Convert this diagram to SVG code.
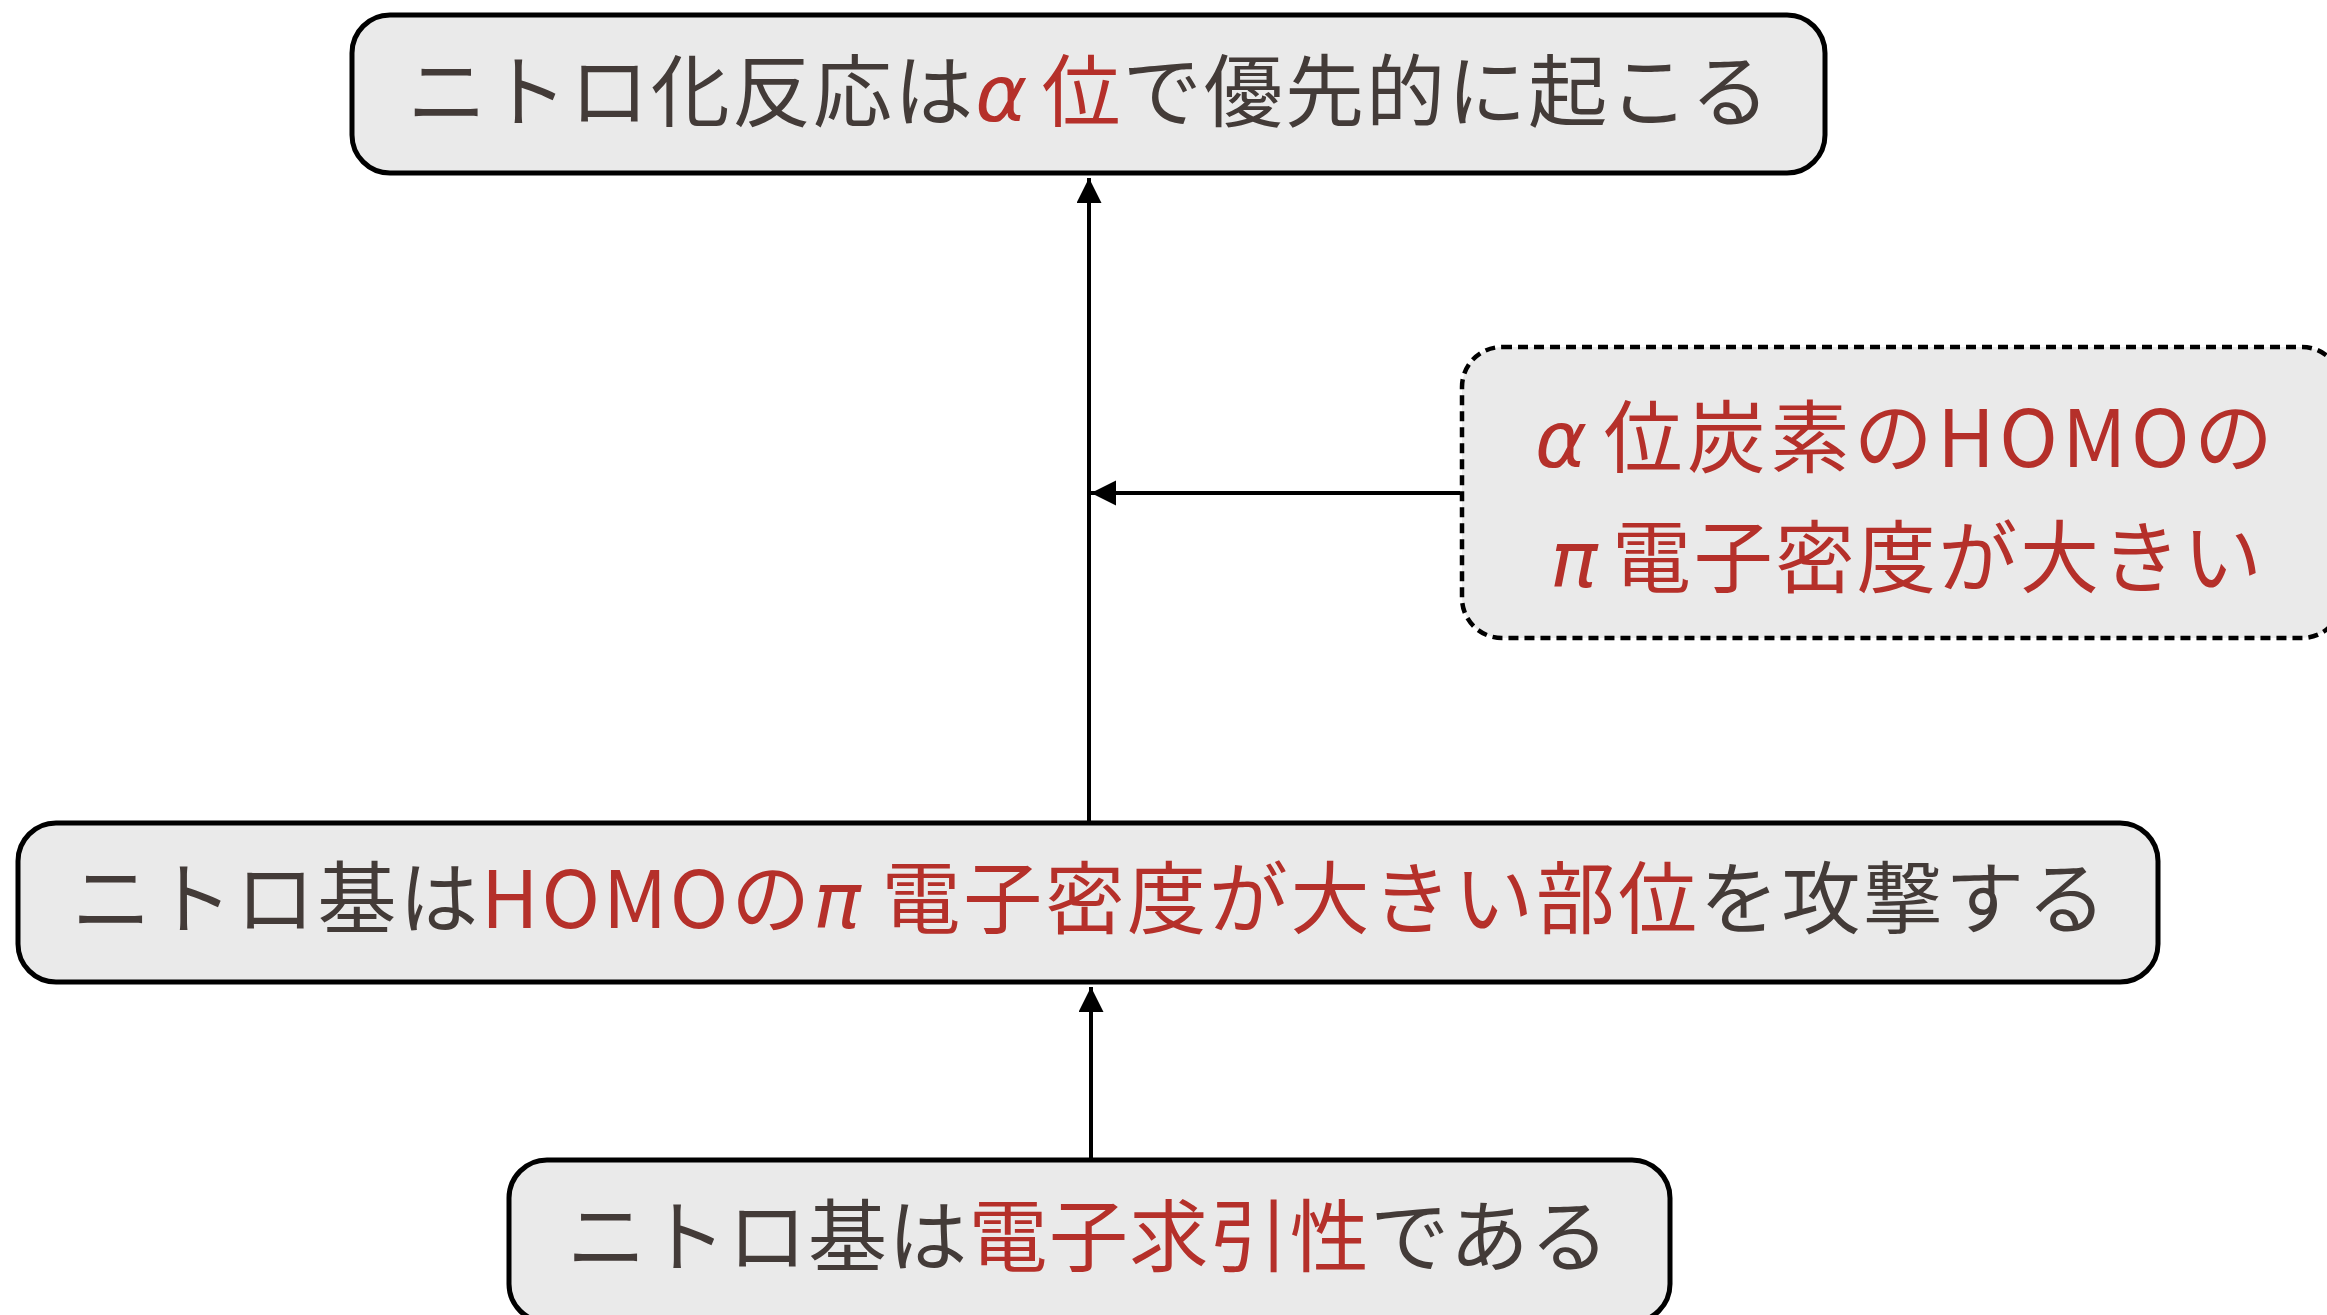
<svg xmlns="http://www.w3.org/2000/svg" width="2327" height="1315" viewBox="0 0 2327 1315">
<style>
.box{fill:#EAEAEA;stroke:#000;stroke-width:5}
.dbox{fill:#EAEAEA;stroke:#000;stroke-width:4.5;stroke-dasharray:10 6}
.t{font-family:"Noto Sans CJK JP","Noto Sans",sans-serif;font-size:79px;fill:#433B38;text-anchor:middle}
.r{fill:#B5302A}
.g{font-family:"DejaVu Sans",sans-serif;font-style:italic}
.c{stroke:#000;stroke-width:4;fill:none}
</style>
<defs>
<marker id="ah" markerUnits="userSpaceOnUse" markerWidth="26" markerHeight="26" refX="25" refY="12.5" orient="auto">
<path d="M0,0 L25,12.5 L0,25 z" fill="#000"/>
</marker>
</defs>
<g id="connectors">
<line class="c" x1="1089" y1="823" x2="1089" y2="178" marker-end="url(#ah)"/>
<line class="c" x1="1091" y1="1160" x2="1091" y2="987" marker-end="url(#ah)"/>
<line class="c" x1="1460" y1="493" x2="1091" y2="493" marker-end="url(#ah)"/>
</g>
<g id="n1">
<rect class="box" x="352" y="15" width="1473" height="158" rx="38"/>
<text class="t" x="1088.5" y="121" textLength="1362" lengthAdjust="spacing">ニトロ化反応は<tspan class="r g">α</tspan><tspan class="r" dx="12">位</tspan>で優先的に起こる</text>
</g>
<g id="n2">
<rect class="dbox" x="1462" y="347" width="880" height="291" rx="40"/>
<text class="t r" x="1904" y="467" textLength="738" lengthAdjust="spacing"><tspan class="g">α</tspan><tspan dx="12">位</tspan>炭素のHOMOの</text>
<text class="t r" x="1906" y="587" textLength="712" lengthAdjust="spacing"><tspan class="g">π</tspan><tspan dx="12">電</tspan>子密度が大きい</text>
</g>
<g id="n3">
<rect class="box" x="18" y="823" width="2140" height="159" rx="38"/>
<text class="t" x="1089" y="928" textLength="2034" lengthAdjust="spacing">ニトロ基は<tspan class="r">HOMOの</tspan><tspan class="r g">π</tspan><tspan class="r" dx="18">電子密度が大きい部位</tspan>を攻撃する</text>
</g>
<g id="n4">
<rect class="box" x="509" y="1160" width="1161" height="162" rx="38"/>
<text class="t" x="1088" y="1266" textLength="1042" lengthAdjust="spacing">ニトロ基は<tspan class="r">電子求引性</tspan>である</text>
</g>
</svg>
